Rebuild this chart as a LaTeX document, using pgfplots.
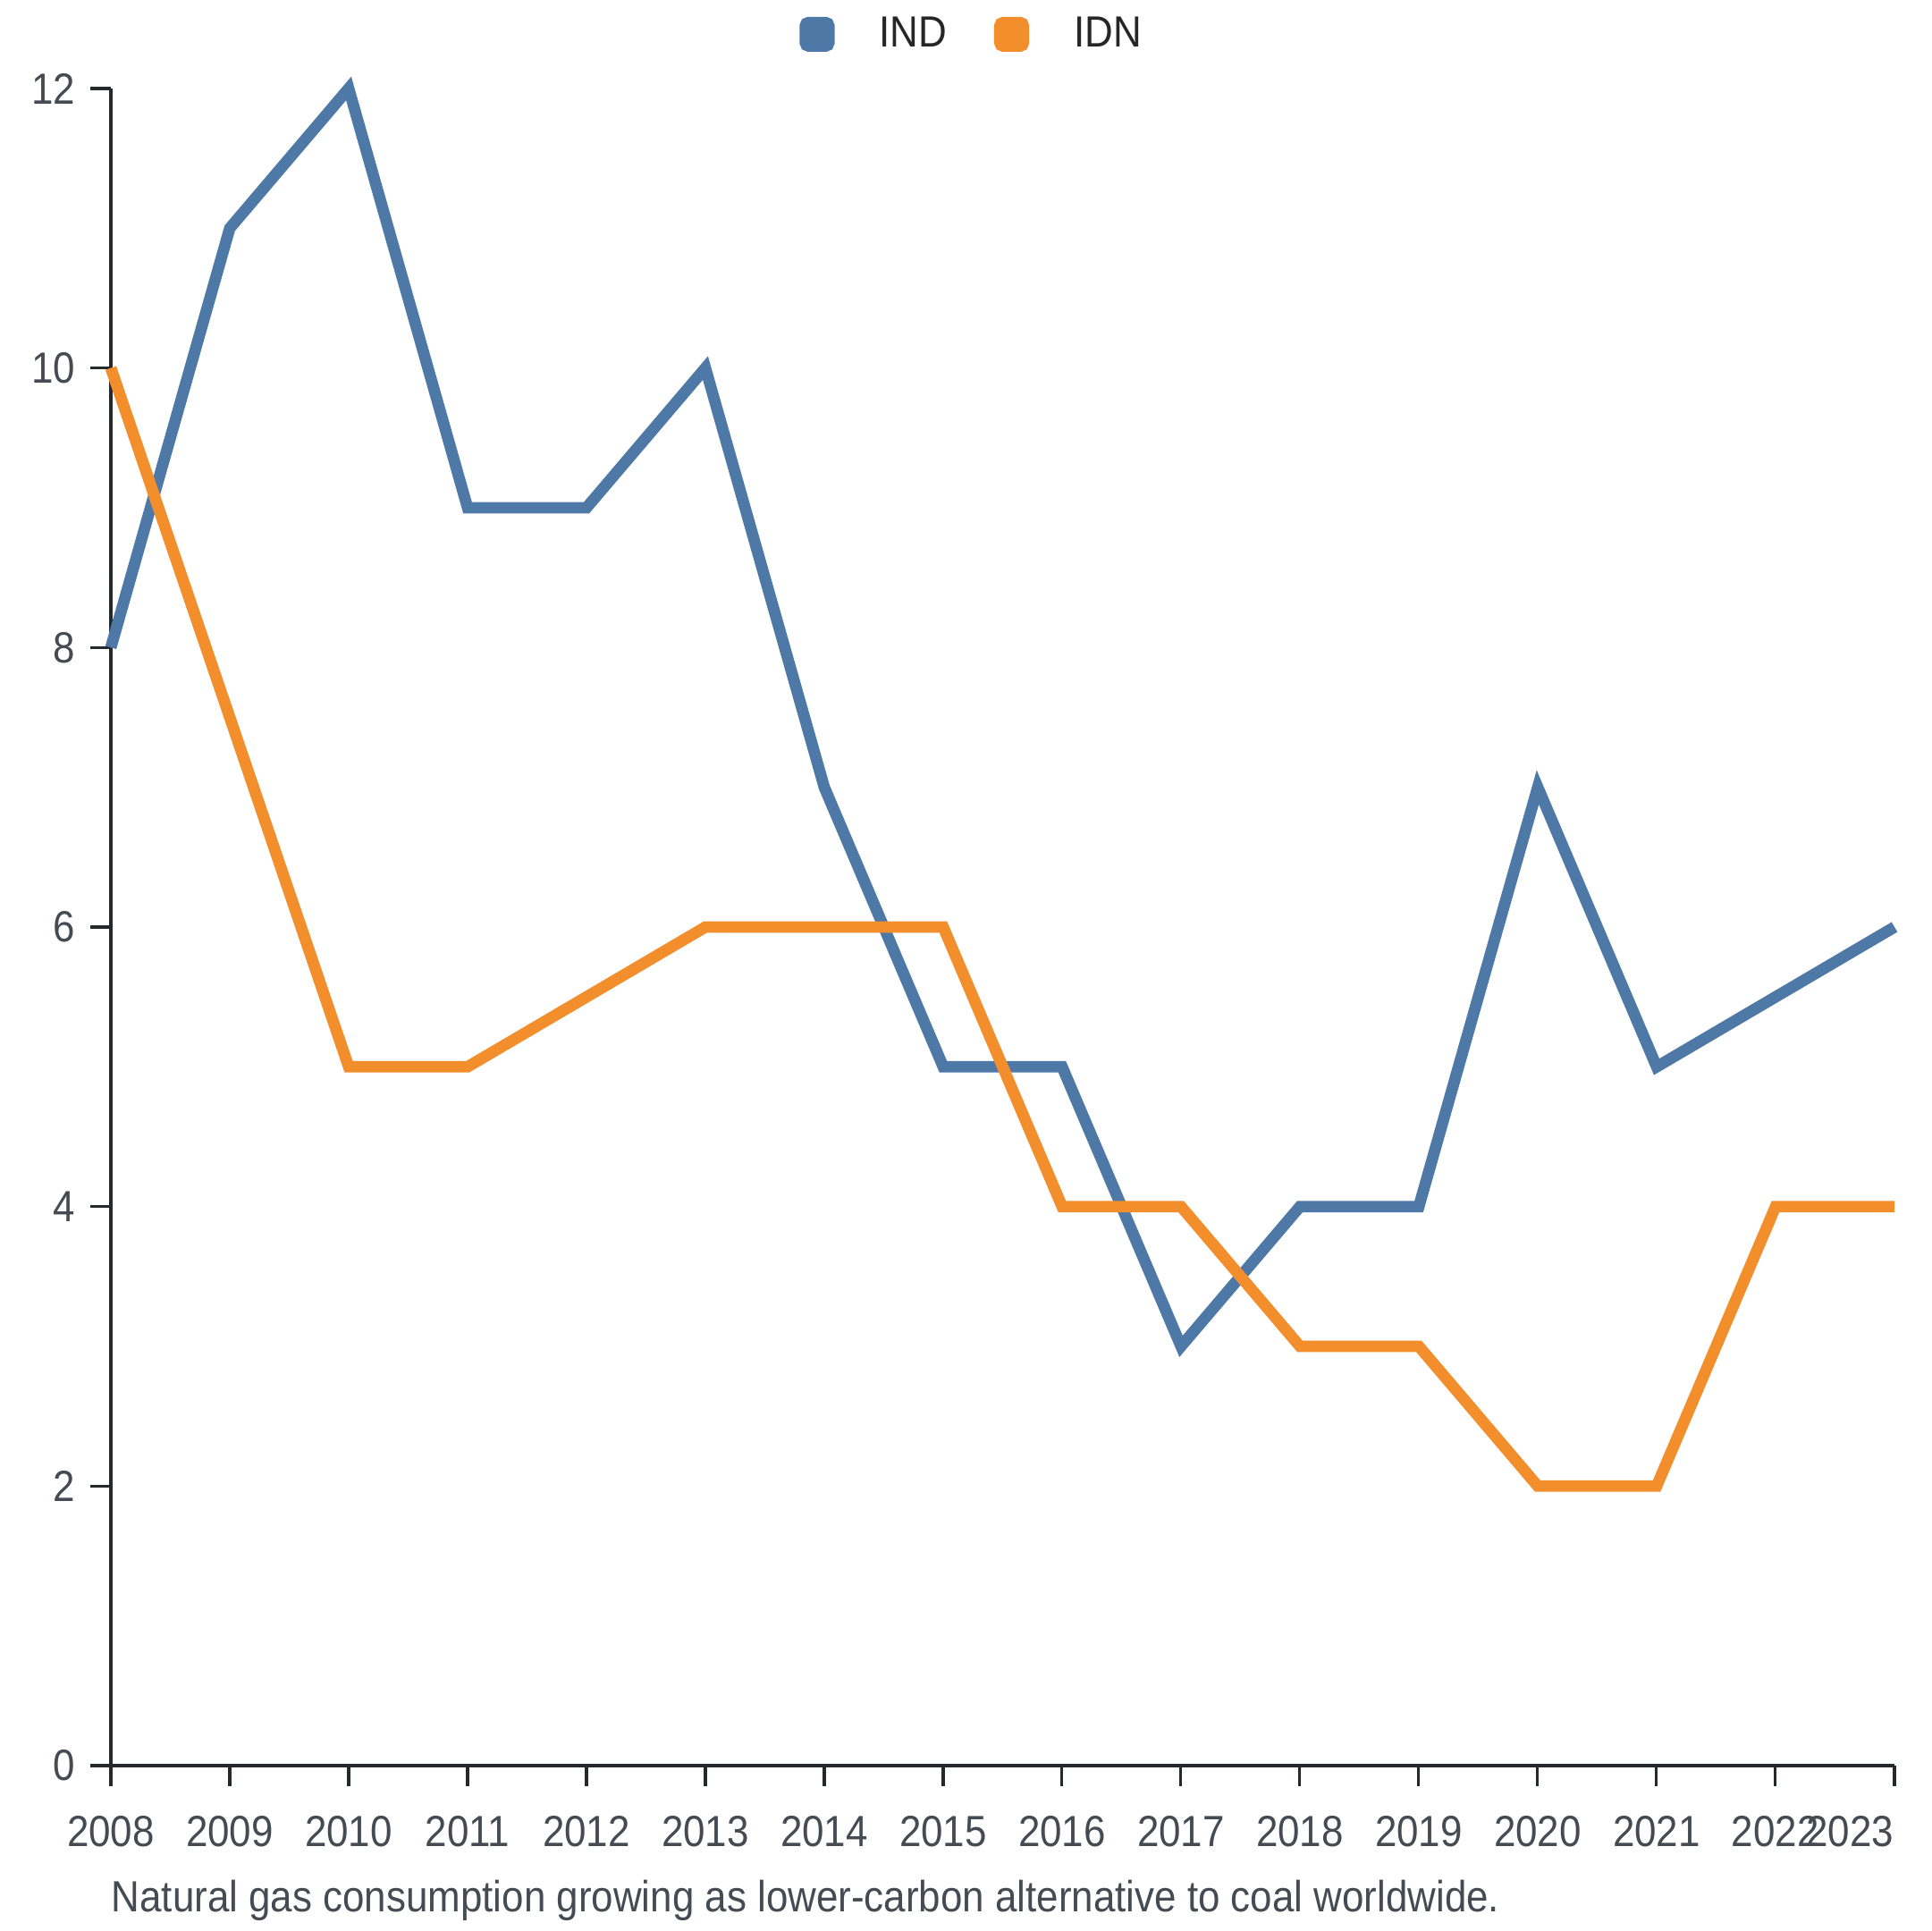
\documentclass[border=0pt]{standalone}
\usepackage{pgfplots}
\pgfplotsset{compat=1.18}
\usepackage{fontspec}
\setmainfont{Liberation Sans}[FakeStretch=0.9]
\definecolor{cblue}{HTML}{4E79A7}
\definecolor{corange}{HTML}{F28E2B}
\definecolor{tickgray}{HTML}{444B53}
\definecolor{axisblack}{HTML}{25282C}
\begin{document}
\begin{tikzpicture}
\useasboundingbox (-31pt,-46.25pt) rectangle (509pt,493.75pt);
\begin{axis}[
  at={(0,0)}, anchor=south west,
  scale only axis, width=498.75pt, height=469pt,
  xmin=2008, xmax=2023, ymin=0, ymax=12,
  axis lines=left, axis line style={-, line width=0.8pt, axisblack},
  tick align=outside, major tick length=5.8pt,
  tick style={line width=0.8pt, axisblack},
  xtick={2008,...,2022},
  xticklabels={2008,2009,2010,2011,2012,2013,2014,2015,2016,2017,2018,2019,2020,2021,2022},
  extra x ticks={2023}, extra x tick labels={2023},
  extra x tick style={xticklabel style={anchor=north east, xshift=0pt}},
  ytick={0,2,...,12},
  /pgf/number format/assume math mode=true,
  ticklabel style={font=\fontsize{12.2}{14}\selectfont, text=tickgray},
  xticklabel style={inner sep=0pt, yshift=-8pt},
  yticklabel style={inner sep=0pt, xshift=-4pt},
  legend columns=2,
  legend style={at={(axis description cs:0.484,1.0323)}, anchor=center, draw=none, fill=none,
    font=\fontsize{12.2}{14}\selectfont, text=black!85,
    /tikz/every even column/.append style={column sep=11.2pt}},
  legend image code/.code={\fill[rounded corners=1pt] (0.5pt,-3.3pt) rectangle (7.1pt,3.3pt);},
  legend cell align=left,
  clip=false,
]
\addplot[cblue, line width=3.2pt, line join=miter] coordinates {
(2008,8) (2009,11) (2010,12) (2011,9) (2012,9) (2013,10) (2014,7) (2015,5) (2016,5) (2017,3) (2018,4) (2019,4) (2020,7) (2021,5) (2022,5.5) (2023,6)};
\addlegendentry{\hspace{10.5pt}IND}
\addplot[corange, line width=3.2pt, line join=miter] coordinates {
(2008,10) (2009,7.5) (2010,5) (2011,5) (2012,5.5) (2013,6) (2014,6) (2015,6) (2016,4) (2017,4) (2018,3) (2019,3) (2020,2) (2021,2) (2022,4) (2023,4)};
\addlegendentry{\hspace{10.5pt}IDN}
\node[anchor=base west, inner sep=0pt, text=tickgray, font=\fontsize{12.2}{14}\selectfont] at (axis description cs:0,-0.0869) {Natural gas consumption growing as lower-carbon alternative to coal worldwide.};
\end{axis}
\end{tikzpicture}
\end{document}
